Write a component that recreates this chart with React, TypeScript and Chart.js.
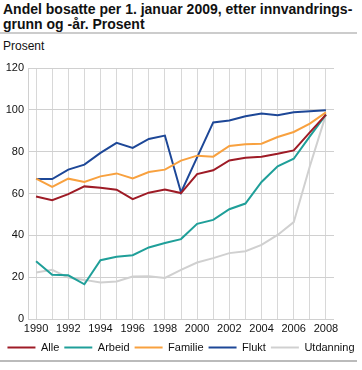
import React, { useEffect, useRef } from "react";
import { Chart, registerables } from "chart.js";

Chart.register(...registerables);

const years = ["1990","1991","1992","1993","1994","1995","1996","1997","1998","1999","2000","2001","2002","2003","2004","2005","2006","2007","2008"];
const alle = [58.6,56.8,59.7,63.4,62.8,61.8,57.3,60.4,61.9,60.2,69.3,71.1,75.8,77.1,77.6,79.0,80.6,89.2,97.7];
const arbeid = [27.6,21.1,20.9,16.6,28.1,29.8,30.5,34.2,36.3,38.2,45.5,47.4,52.5,55.2,65.5,73.0,76.6,87.3,97.7];
const familie = [67.1,63.2,67.1,65.5,68.2,69.6,67.2,70.3,71.4,75.7,78.1,77.6,82.7,83.5,83.8,87.0,89.4,93.4,98.8];
const flukt = [66.9,66.9,71.4,73.8,79.4,84.2,81.8,86.1,87.7,60.5,77.3,94.0,94.9,96.9,98.2,97.4,98.8,99.3,99.8];
const utdanning = [22.2,23.5,19.8,18.7,17.4,17.9,20.3,20.4,19.6,23.5,27.0,29.1,31.5,32.4,35.4,40.2,46.3,73.0,97.7];

const seriesNames = ["Alle","Arbeid","Familie","Flukt","Utdanning"];
const seriesColors = ["#9e1b26","#1f9f99","#f8a13f","#1d4797","#d0d0d0"];
const seriesData = [alle, arbeid, familie, flukt, utdanning];

const FONT = "'Liberation Sans', Arial, Helvetica, sans-serif";

export default function App() {
  const ref = useRef<HTMLCanvasElement>(null);
  useEffect(() => {
    if (!ref.current) return;
    const chart = new Chart(ref.current, {
      type: "line",
      data: {
        labels: years,
        datasets: seriesNames.map((n, i) => ({
          label: n,
          data: seriesData[i],
          borderColor: seriesColors[i],
          backgroundColor: seriesColors[i],
          borderWidth: 2,
          pointRadius: 0,
          tension: 0,
          fill: false,
        })),
      },
      options: {
        animation: false,
        responsive: false,
        maintainAspectRatio: false,
        layout: { padding: { left: 0, right: 0, top: 32, bottom: 0 } },
        plugins: {
          tooltip: { enabled: false },
          legend: {
            position: "bottom",
            labels: {
              usePointStyle: true,
              pointStyle: "line",
              pointStyleWidth: 28,
              boxHeight: 11,
              padding: 5,
              color: "#111",
              font: { family: FONT, size: 11 },
            },
          },
        },
        scales: {
          x: {
            offset: true,
            afterFit: (s: any) => { s.height = 18; },
            grid: { offset: false, color: "#d8d8d8", drawTicks: false },
            border: { display: false },
            ticks: {
              autoSkip: false,
              maxRotation: 0,
              padding: 3,
              color: "#111",
              font: { family: FONT, size: 11 },
              callback: (v: any, i: number) => (Number(years[i]) % 2 === 0 ? years[i] : ""),
            },
          },
          y: {
            min: 0,
            max: 120,
            afterFit: (s: any) => { s.width = 28; },
            ticks: { stepSize: 20, padding: 4, color: "#111", font: { family: FONT, size: 11 } },
            grid: { color: "#d0d0d0", drawTicks: false },
            border: { display: true, color: "#d0d0d0" },
          },
          y2: {
            position: "right",
            display: true,
            min: 0,
            max: 120,
            afterFit: (s: any) => { s.width = 28; },
            ticks: { display: false },
            grid: { display: false, drawTicks: false },
            border: { display: false },
          },
        },
      },
    });
    return () => chart.destroy();
  }, []);

  return (
    <div style={{ position: "fixed", left: 0, top: 0, width: 362, height: 370, background: "#fff", fontFamily: FONT, color: "#111" }}>
      <div style={{ position: "absolute", left: 3, top: 2, width: 358, fontWeight: "bold", fontSize: 14, lineHeight: "15px" }}>
        Andel bosatte per 1. januar 2009, etter innvandrings-<br />grunn og -år. Prosent
      </div>
      <div style={{ position: "absolute", left: 0, top: 32, width: 357, height: 2, background: "#cccccc" }} />
      <div style={{ position: "absolute", left: 3, top: 39, fontSize: 12 }}>Prosent</div>
      <div style={{ position: "absolute", left: 0, top: 36, width: 362, height: 327 }}>
        <canvas ref={ref} width={362} height={327} style={{ display: "block" }} />
      </div>
      <div style={{ position: "absolute", left: 0, top: 360, width: 357, height: 2, background: "#bbbbbb" }} />
    </div>
  );
}
